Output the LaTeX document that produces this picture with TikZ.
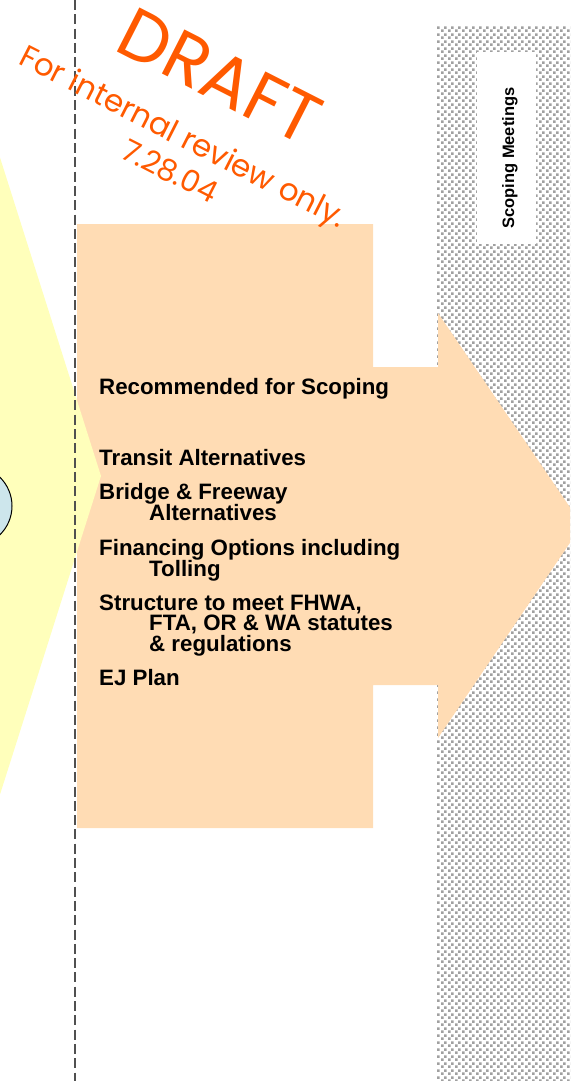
\documentclass[tikz,border=0pt]{standalone}
\usepackage[usenames,dvipsnames]{xcolor}
\usepackage{fontspec}
\setmainfont{Liberation Sans}
\newfontfamily\draftfont{Poppins}
\usepackage{tikz}
\usetikzlibrary{patterns}

\definecolor{peach}{HTML}{FFDCB4}
\definecolor{paleyellow}{HTML}{FFFFBB}
\definecolor{paleblue}{HTML}{CDE6EC}
\definecolor{draftorange}{HTML}{FF5A00}
\definecolor{dotgray}{HTML}{A0A0A0}
\definecolor{dashgray}{HTML}{505050}

% little squares for the gray strip
\pgfdeclarepatternformonly{stipple}{\pgfpointorigin}{\pgfqpoint{7pt}{7pt}}{\pgfqpoint{7pt}{7pt}}{
  \pgfpathrectangle{\pgfqpoint{0pt}{0pt}}{\pgfqpoint{2.9pt}{2.9pt}}
  \pgfpathrectangle{\pgfqpoint{3.5pt}{3.5pt}}{\pgfqpoint{2.9pt}{2.9pt}}
  \pgfusepath{fill}}

% indented follow-on line of an item
\newcommand{\indline}[1]{\hbox{\hspace*{50pt}#1}}

\tikzset{
  item/.style={anchor=base west, inner sep=0pt,
    font=\bfseries\fontsize{22.3}{20.5}\selectfont},
  stamp/.style={text=draftorange, rotate=-27, inner sep=0pt},
  divider/.style={dashgray, line width=1.6, dash pattern=on 10pt off 4.3pt}
}

\begin{document}
\begin{tikzpicture}[x=1pt,y=-1pt]

\useasboundingbox (0,0) rectangle (570,1081);
\clip (0,0) rectangle (570,1081);

% gray strip
\fill[pattern=stipple, pattern color=dotgray] (437,27) rectangle (570,1081);
\node[fill=white, minimum width=59pt, minimum height=192pt, inner sep=0pt] (meetbox) at (506.5,148) {};
\node[rotate=90, font=\bfseries\fontsize{16.5}{18}\selectfont, inner sep=0pt] (meet) at (510,158) {Scoping Meetings};

% peach box and arrow
\fill[peach] (77,224) -- (373,224) -- (373,367) -- (438,367) -- (438,313) -- (582,525)
  -- (438,738) -- (438,685) -- (373,685) -- (373,828) -- (77,828) -- cycle;

% yellow arrow from the left
\fill[paleyellow] (-10,126) -- (101,476) -- (-10,826) -- cycle;
\draw[fill=paleblue, line width=1] (-30,506) ellipse (42 and 41);

% divider
\coordinate (divtop) at (75,0);
\coordinate (divbot) at (75,1081);
\draw[divider] (divtop) -- (divbot);

% texts
\node[item] (recom) at (99,394) {Recommended for Scoping};
\node[item] (transit) at (99,465) {Transit Alternatives};
\node[item] (bridge) at (99,499) {\vtop{\hbox{Bridge \& Freeway}\indline{Alternatives}}};
\node[item] (finance) at (99,555) {\vtop{\hbox{Financing Options including}\indline{Tolling}}};
\node[item] (structure) at (99,610) {\vtop{\hbox{Structure to meet FHWA,}\indline{FTA, OR \& WA statutes}\indline{\& regulations}}};
\node[item] (ejplan) at (99,685) {EJ Plan};

% draft stamp
\node[stamp, font=\draftfont\fontsize{71}{71}\selectfont] (draft) at (220,76) {DRAFT};
\node[stamp, font=\draftfont\fontsize{31}{31}\selectfont] (review) at (182,139) {For internal review only.};
\node[stamp, font=\draftfont\fontsize{30}{30}\selectfont] (date) at (170,171) {7.28.04};

\end{tikzpicture}
\end{document}
